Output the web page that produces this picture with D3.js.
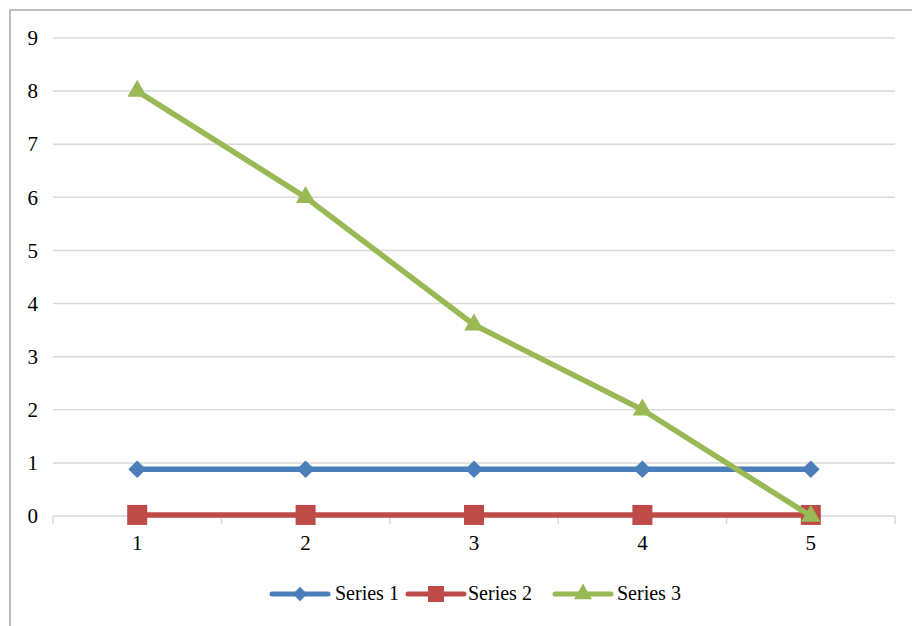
<!DOCTYPE html>
<html>
<head>
<meta charset="utf-8">
<script src="https://cdn.jsdelivr.net/npm/d3@7"></script>
<style>
  html, body { margin: 0; padding: 0; background: #fff; }
  svg { display: block; }
  text { font-family: "Liberation Serif", "Times New Roman", serif; fill: #000; }
</style>
</head>
<body>
<script>
// Chart data
const categories = ["1", "2", "3", "4", "5"];
const seriesNames = ["Series 1", "Series 2", "Series 3"];
const series1 = [0.88, 0.88, 0.88, 0.88, 0.88];
const series2 = [0.02, 0.02, 0.02, 0.02, 0.02];
const series3 = [8, 6, 3.6, 2, 0];
const yTicks = [0, 1, 2, 3, 4, 5, 6, 7, 8, 9];

const colors = ["#4A7EBB", "#BE4B48", "#98B954"];
const symbols = [d3.symbolDiamond2, d3.symbolSquare, d3.symbolTriangle];

const W = 912, H = 626;
const margin = { left: 53, right: 17, top: 38, bottom: 110 };
const axisFont = "21px";
const legendFont = "20px";

const svg = d3.select("body").append("svg")
  .attr("width", W).attr("height", H);

// chart frame
svg.append("rect")
  .attr("x", 10).attr("y", 10)
  .attr("width", W + 10).attr("height", H + 10)
  .attr("fill", "none").attr("stroke", "#BFBFBF").attr("stroke-width", 2);

const x = d3.scaleBand().domain(categories)
  .range([margin.left, W - margin.right]);
const y = d3.scaleLinear().domain([0, 9])
  .range([516, margin.top]);

// horizontal gridlines
svg.append("g").selectAll("line").data(yTicks.filter(d => d > 0)).join("line")
  .attr("x1", x.range()[0]).attr("x2", x.range()[1])
  .attr("y1", d => y(d)).attr("y2", d => y(d))
  .attr("stroke", "#D9D9D9").attr("stroke-width", 1.5);

// y axis labels
const yAxis = d3.axisLeft(y).tickValues(yTicks).tickSize(0).tickPadding(15);
const gy = svg.append("g").attr("transform", `translate(${margin.left},0)`).call(yAxis);
gy.select(".domain").remove();
gy.selectAll("text")
  .style("font-size", axisFont)
  .style("font-family", "Liberation Serif")
  .attr("fill", "#000");

// x axis with tick marks at category boundaries
const gx = svg.append("g").attr("transform", `translate(0,${y(0)})`);
gx.append("line")
  .attr("x1", x.range()[0]).attr("x2", x.range()[1])
  .attr("stroke", "#D9D9D9").attr("stroke-width", 1.5);
const boundaries = categories.map(c => x(c)).concat([x.range()[1]]);
gx.selectAll("line.tk").data(boundaries).join("line").attr("class", "tk")
  .attr("x1", d => d).attr("x2", d => d)
  .attr("y1", 0).attr("y2", 8)
  .attr("stroke", "#D9D9D9").attr("stroke-width", 1.5);
gx.selectAll("text").data(categories).join("text")
  .attr("x", d => x(d) + x.bandwidth() / 2)
  .attr("y", 34)
  .attr("text-anchor", "middle")
  .style("font-size", axisFont)
  .text(d => d);

// series lines and markers
const allSeries = [series1, series2, series3];
const line = d3.line()
  .x((d, i) => x(categories[i]) + x.bandwidth() / 2)
  .y(d => y(d));
const markerSizes = [200, 400, 165];

allSeries.forEach((vals, si) => {
  const g = svg.append("g");
  g.append("path").datum(vals)
    .attr("d", line)
    .attr("fill", "none")
    .attr("stroke", colors[si])
    .attr("stroke-width", 5.5)
    .attr("stroke-linejoin", "round");
  g.selectAll("path.m").data(vals).join("path").attr("class", "m")
    .attr("transform", (d, i) => `translate(${x(categories[i]) + x.bandwidth() / 2},${y(d)})`)
    .attr("d", d3.symbol().type(symbols[si]).size(markerSizes[si]))
    .attr("fill", colors[si]);
});

// legend
const legendItems = [
  { lx: 272, tx: 335 },
  { lx: 408, tx: 468 },
  { lx: 555, tx: 617 }
];
const legendMarkerSizes = [130, 256, 140];
const lg = svg.append("g").attr("transform", "translate(0,594)");
seriesNames.forEach((name, i) => {
  const it = legendItems[i];
  lg.append("line")
    .attr("x1", it.lx).attr("x2", it.lx + 56)
    .attr("stroke", colors[i]).attr("stroke-width", 5)
    .attr("stroke-linecap", "round");
  lg.append("path")
    .attr("transform", `translate(${it.lx + 28},0)`)
    .attr("d", d3.symbol().type(symbols[i]).size(legendMarkerSizes[i]))
    .attr("fill", colors[i]);
  lg.append("text")
    .attr("x", it.tx).attr("y", 6)
    .style("font-size", legendFont)
    .text(name);
});
</script>
</body>
</html>
